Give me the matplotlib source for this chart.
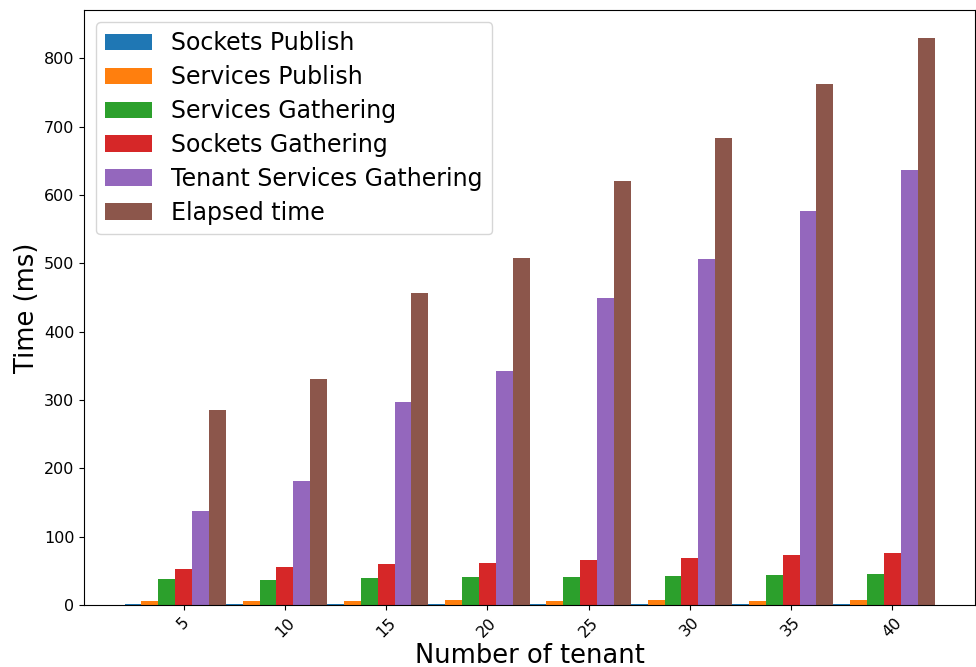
import numpy as np
import matplotlib.pyplot as plt

tenants = [5, 10, 15, 20, 25, 30, 35, 40]
sockets_publish = [1.8, 1.8, 1.8, 1.8, 1.8, 1.8, 1.8, 1.8]
services_publish = [6.3, 6.3, 6.3, 7.8, 6.3, 7.8, 6.3, 7.8]
services_gathering = [38.5, 37, 40, 41.5, 41.5, 43, 44.5, 46]
sockets_gathering = [53, 56, 60, 62, 66, 69, 72.5, 76.5]
tenant_services_gathering = [137, 181, 297, 342, 449, 506, 577, 636]
elapsed_time = [285, 330, 456, 508, 620, 683, 762, 829]

labels = ['Sockets Publish', 'Services Publish', 'Services Gathering',
          'Sockets Gathering', 'Tenant Services Gathering', 'Elapsed time']
series = [sockets_publish, services_publish, services_gathering,
          sockets_gathering, tenant_services_gathering, elapsed_time]

fig = plt.figure(figsize=(9.76, 6.67), dpi=100)
ax = fig.add_subplot(111)
fig.subplots_adjust(left=84/976, right=975/976, top=1-10/667, bottom=1-605/667)

x = np.array(tenants)
width = 5 / 6
for i in range(len(series)):
    ax.bar(x + (i - 3) * width, series[i], width, label=labels[i])

ax.set_xticks(x)
ax.set_xticklabels([str(t) for t in tenants], rotation=45, fontsize=11.5)
ax.tick_params(axis='y', labelsize=11.5)
ax.set_xlabel('Number of tenant', fontsize=18.5, labelpad=2)
ax.set_ylabel('Time (ms)', fontsize=18.5, labelpad=3)
ax.legend(loc='upper left', fontsize=17, labelspacing=0.42)

plt.savefig('out.png', dpi=100)
